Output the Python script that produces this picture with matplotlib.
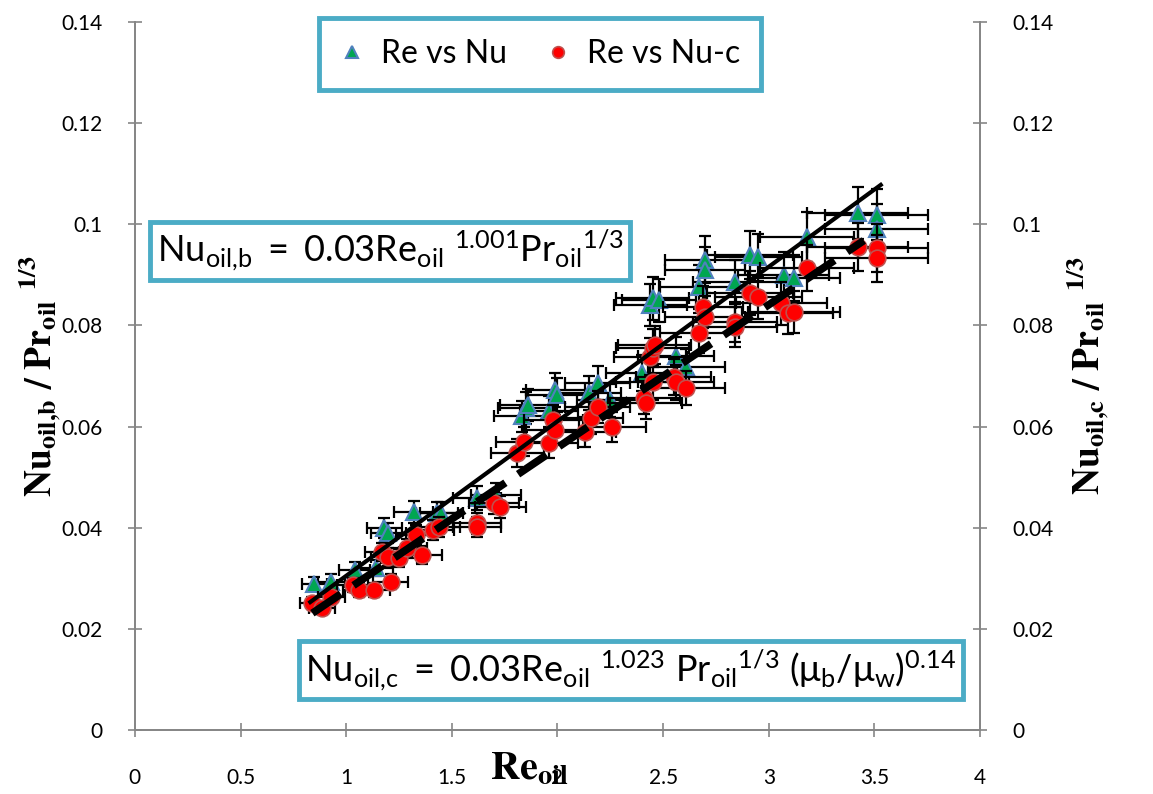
import matplotlib
matplotlib.use('Agg')
import matplotlib.pyplot as plt
import numpy as np

# Re vs Nu (triangles)
re_nu = [0.85, 0.93, 1.04, 1.14, 1.18, 1.20, 1.32, 1.43, 1.45, 1.62, 1.71,
         1.83, 1.85, 1.86, 1.96, 1.99, 2.00, 2.15, 2.19, 2.25, 2.40, 2.44,
         2.45, 2.48, 2.56, 2.61, 2.67, 2.70, 2.70, 2.84, 2.91, 2.95, 3.07,
         3.12, 3.18, 3.42, 3.51, 3.51]
nu = [0.0289, 0.0293, 0.0316, 0.0320, 0.0400, 0.0390, 0.0431, 0.0429, 0.0430,
      0.0459, 0.0465, 0.0620, 0.0637, 0.0643, 0.0630, 0.0672, 0.0663, 0.0666,
      0.0686, 0.0652, 0.0706, 0.0840, 0.0854, 0.0850, 0.0740, 0.0718, 0.0876,
      0.0930, 0.0910, 0.0886, 0.0939, 0.0935, 0.0900, 0.0894, 0.0975, 0.1022,
      0.1019, 0.0990]

# Re vs Nu-c (circles)
re_nuc = [0.84, 0.885, 0.93, 1.03, 1.06, 1.13, 1.21, 1.17, 1.20, 1.25, 1.29,
          1.33, 1.36, 1.41, 1.44, 1.62, 1.62, 1.70, 1.73, 1.81, 1.84, 1.96,
          1.98, 1.99, 2.13, 2.16, 2.19, 2.26, 2.41, 2.42, 2.44, 2.45, 2.45,
          2.46, 2.55, 2.56, 2.61, 2.67, 2.69, 2.70, 2.84, 2.84, 2.91, 2.95,
          3.06, 3.09, 3.12, 3.18, 3.42, 3.51, 3.51]
nuc = [0.0251, 0.0241, 0.0263, 0.0287, 0.0277, 0.0277, 0.0293, 0.0352, 0.0342,
       0.0340, 0.0360, 0.0386, 0.0346, 0.0395, 0.0401, 0.0409, 0.0401, 0.0449,
       0.0441, 0.0548, 0.0570, 0.0567, 0.0613, 0.0593, 0.0589, 0.0617, 0.0639,
       0.0599, 0.0657, 0.0647, 0.0738, 0.0688, 0.0755, 0.0761, 0.0698, 0.0688,
       0.0676, 0.0785, 0.0837, 0.0817, 0.0807, 0.0797, 0.0864, 0.0856, 0.0844,
       0.0824, 0.0826, 0.0913, 0.0955, 0.0953, 0.0933]

# percentage error bars
x_err_pct = 0.07
y_err_pct = 0.05

# trend line end points
fit_b_x = [0.83, 3.53]
fit_b_y = [0.0253, 0.1078]
fit_c_x = [0.84, 3.45]
fit_c_y = [0.0231, 0.0968]

xticks = [0, 0.5, 1, 1.5, 2, 2.5, 3, 3.5, 4]
xticklabels = ['0', '0.5', '1', '1.5', '2', '2.5', '3', '3.5', '4']
yticks = [0, 0.02, 0.04, 0.06, 0.08, 0.1, 0.12, 0.14]
yticklabels = ['0', '0.02', '0.04', '0.06', '0.08', '0.1', '0.12', '0.14']

plt.rcParams['font.family'] = ['Lato', 'DejaVu Sans']
plt.rcParams['mathtext.fontset'] = 'custom'
plt.rcParams['mathtext.rm'] = 'Lato'
plt.rcParams['mathtext.it'] = 'Lato:italic'
plt.rcParams['mathtext.bf'] = 'Lato:bold'

grey = '#868686'
teal = '#4BACC6'

fig = plt.figure(figsize=(11.53, 7.94), dpi=100)
ax = fig.add_axes([0.117, 0.0806, 0.733, 0.8916])

re_nu = np.array(re_nu)
nu = np.array(nu)
re_nuc = np.array(re_nuc)
nuc = np.array(nuc)

ax.errorbar(re_nu, nu, xerr=re_nu * x_err_pct, yerr=nu * y_err_pct, fmt='none',
            ecolor='black', elinewidth=1.6, capsize=4.5, capthick=1.6, zorder=2)
ax.plot(re_nu, nu, linestyle='none', marker='^', markersize=12,
        markerfacecolor='#00A651', markeredgecolor='#4F81BD', markeredgewidth=1.5,
        zorder=3, label='Re vs Nu')
ax.errorbar(re_nuc, nuc, xerr=re_nuc * x_err_pct, yerr=nuc * y_err_pct, fmt='none',
            ecolor='black', elinewidth=1.6, capsize=4.5, capthick=1.6, zorder=4)
ax.plot(re_nuc, nuc, linestyle='none', marker='o', markersize=12,
        markerfacecolor='#FF0000', markeredgecolor='#C0504D', markeredgewidth=1.2,
        zorder=5, label='Re vs Nu-c')

ax.plot(fit_b_x, fit_b_y, color='black', linewidth=3, zorder=6)
ax.plot(fit_c_x, fit_c_y, color='black', linewidth=5.5, dashes=(4.5, 2), zorder=6)

ax.set_xlim(0, 4)
ax.set_ylim(0, 0.14)
ax.set_xticks(xticks)
ax.set_xticklabels(xticklabels)
ax.set_yticks(yticks)
ax.set_yticklabels(yticklabels)
ax.tick_params(direction='inout', length=10, width=1.2, color=grey,
               labelsize=15, pad=18)
ax.tick_params(axis='x', pad=22)
for side in ['left', 'bottom', 'right']:
    ax.spines[side].set_color(grey)
    ax.spines[side].set_linewidth(1.3)
ax.spines['top'].set_visible(False)

ax2 = ax.twinx()
ax2.set_ylim(0, 0.14)
ax2.set_yticks(yticks)
ax2.set_yticklabels(yticklabels)
ax2.tick_params(direction='inout', length=10, width=1.2, color=grey,
                labelsize=15, pad=18)
for side in ['left', 'bottom', 'right']:
    ax2.spines[side].set_color(grey)
    ax2.spines[side].set_linewidth(1.3)
ax2.spines['top'].set_visible(False)

ax.text(-0.113, 0.5, r'$\mathbf{Nu_{oil{,}b}\ /\ Pr_{oil}\ {}^{1/3}}$',
        transform=ax.transAxes, rotation=90, ha='center', va='center',
        fontsize=27, math_fontfamily='stix')
ax2.text(1.127, 0.5, r'$\mathbf{Nu_{oil{,}c}\ /\ Pr_{oil}\ {}^{1/3}}$',
         transform=ax.transAxes, rotation=90, ha='center', va='center',
         fontsize=27, math_fontfamily='stix')
ax.text(0.467, -0.054, r'$\mathbf{Re_{oil}}$', transform=ax.transAxes,
        ha='center', va='center', fontsize=29, math_fontfamily='stix')

box = dict(boxstyle='square,pad=0.18', facecolor='white', edgecolor=teal, linewidth=3.5)
ax2.text(0.302, 0.677,
         r'$\mathrm{Nu_{oil{,}b}\ {=}\ 0.03Re_{oil}\ {}^{1.001}Pr_{oil}{}^{1/3}}$',
         transform=ax.transAxes, ha='center', va='center', fontsize=26,
         bbox=box, zorder=10)
ax2.text(0.587, 0.0847,
         r'$\mathrm{Nu_{oil{,}c}\ {=}\ 0.03Re_{oil}\ {}^{1.023}\ Pr_{oil}{}^{1/3}\ (μ_b/μ_w)^{0.14}}$',
         transform=ax.transAxes, ha='center', va='center', fontsize=26,
         bbox=box, zorder=10)

leg = ax2.legend(*ax.get_legend_handles_labels(), loc='center',
                 bbox_to_anchor=(0.479, 0.955), ncol=2, fontsize=23,
                 markerscale=0.7, handlelength=0.8, handletextpad=0.5,
                 columnspacing=1.2, fancybox=False, framealpha=1,
                 borderpad=0.65)
leg.get_frame().set_edgecolor(teal)
leg.get_frame().set_linewidth(3.5)

fig.savefig('out.png', dpi=100)
